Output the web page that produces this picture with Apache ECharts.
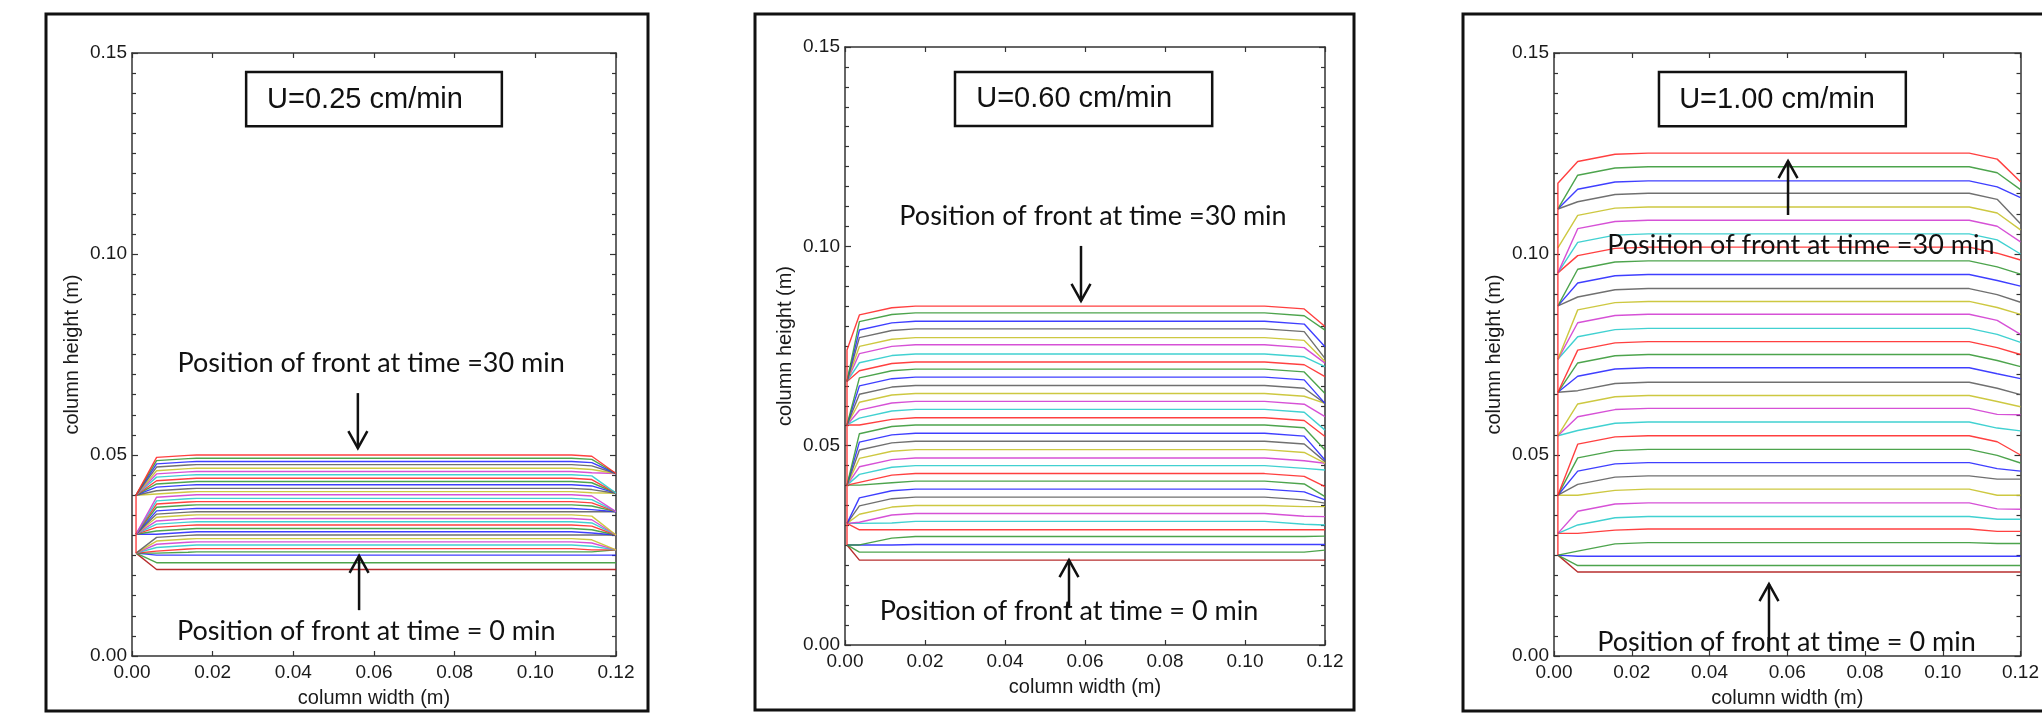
<!DOCTYPE html>
<html>
<head>
<meta charset="utf-8">
<script src="https://cdn.jsdelivr.net/npm/echarts@6/dist/echarts.min.js"></script>
<style>
  html, body { margin: 0; padding: 0; background: #fff; }
  #main { width: 2042px; height: 720px; }
</style>
</head>
<body>
<div id="main"></div>
<script>
// front height (m) on the flat part of each curve, top curve first
var front025 = [0.0500, 0.0492, 0.0484, 0.0476, 0.0467, 0.0459, 0.0451, 0.0442, 0.0434, 0.0426, 0.0417,
    0.0409, 0.0401, 0.0392, 0.0384, 0.0376, 0.0367, 0.0359, 0.0351, 0.0342, 0.0334, 0.0326, 0.0317,
    0.0309, 0.0301, 0.0292, 0.0284, 0.0276, 0.0267, 0.0259, 0.0251, 0.0232, 0.0215];
var front060 = [0.0850, 0.0833, 0.0812, 0.0793, 0.0771, 0.0753, 0.0730, 0.0710, 0.0692, 0.0672, 0.0651,
    0.0631, 0.0611, 0.0591, 0.0570, 0.0552, 0.0531, 0.0511, 0.0490, 0.0469, 0.0450, 0.0430, 0.0411,
    0.0391, 0.0371, 0.0350, 0.0330, 0.0310, 0.0289, 0.0272, 0.0252, 0.0233, 0.0213];
var front100 = [0.1251, 0.1217, 0.1182, 0.1151, 0.1117, 0.1084, 0.1050, 0.1017, 0.0983, 0.0949, 0.0914,
    0.0882, 0.0850, 0.0815, 0.0782, 0.0750, 0.0717, 0.0681, 0.0648, 0.0616, 0.0582, 0.0548, 0.0514,
    0.0481, 0.0448, 0.0415, 0.0381, 0.0347, 0.0316, 0.0282, 0.0248, 0.0225, 0.0209];

// height where each curve meets the left wall
var leftEnd025 = [0.0400, 0.0400, 0.0400, 0.0400, 0.0400, 0.0400, 0.0400, 0.0400, 0.0400, 0.0400, 0.0400,
    0.0400, 0.0303, 0.0303, 0.0303, 0.0303, 0.0303, 0.0303, 0.0303, 0.0303, 0.0303, 0.0303, 0.0303,
    0.0303, 0.0256, 0.0256, 0.0256, 0.0256, 0.0256, 0.0256, 0.0256, 0.0256, 0.0256];
var leftEnd060 = [0.0740, 0.0661, 0.0661, 0.0661, 0.0661, 0.0661, 0.0661, 0.0661, 0.0552, 0.0552, 0.0552,
    0.0552, 0.0552, 0.0552, 0.0552, 0.0401, 0.0401, 0.0401, 0.0401, 0.0401, 0.0401, 0.0401, 0.0401,
    0.0305, 0.0305, 0.0305, 0.0305, 0.0305, 0.0305, 0.0251, 0.0251, 0.0251, 0.0251];
var leftEnd100 = [0.1176, 0.1112, 0.1112, 0.1112, 0.1015, 0.0953, 0.0953, 0.0953, 0.0871, 0.0871, 0.0871,
    0.0738, 0.0738, 0.0738, 0.0656, 0.0656, 0.0656, 0.0656, 0.0548, 0.0548, 0.0548, 0.0400, 0.0400,
    0.0400, 0.0400, 0.0400, 0.0305, 0.0305, 0.0305, 0.0251, 0.0251, 0.0251, 0.0251];

// height where each curve meets the right wall
var rightEnd025 = [0.0454, 0.0454, 0.0454, 0.0454, 0.0454, 0.0454, 0.0405, 0.0405, 0.0405, 0.0405, 0.0405,
    0.0405, 0.0359, 0.0359, 0.0359, 0.0359, 0.0359, 0.0359, 0.0301, 0.0301, 0.0301, 0.0301, 0.0301,
    0.0301, 0.0301, 0.0264, 0.0264, 0.0264, 0.0264, 0.0264, 0.0251, 0.0232, 0.0215];
var rightEnd060 = [0.0799, 0.0790, 0.0748, 0.0719, 0.0711, 0.0707, 0.0698, 0.0673, 0.0631, 0.0606, 0.0606,
    0.0606, 0.0573, 0.0539, 0.0523, 0.0489, 0.0464, 0.0460, 0.0456, 0.0456, 0.0439, 0.0397, 0.0372,
    0.0364, 0.0356, 0.0347, 0.0322, 0.0301, 0.0289, 0.0273, 0.0252, 0.0238, 0.0213];
var rightEnd100 = [0.1180, 0.1160, 0.1140, 0.1075, 0.1060, 0.1030, 0.1000, 0.0985, 0.0950, 0.0920, 0.0880,
    0.0850, 0.0800, 0.0780, 0.0750, 0.0720, 0.0690, 0.0650, 0.0620, 0.0600, 0.0560, 0.0500, 0.0480,
    0.0460, 0.0440, 0.0400, 0.0365, 0.0340, 0.0310, 0.0280, 0.0248, 0.0225, 0.0209];

// x of the bends near the walls, and how far below the flat part each bend sits
var edgeX025 = [0.001, 0.0061, 0.0139, 0.0160, 0.1090, 0.1140, 0.1200];
var edgeX060 = [0.0005, 0.0036, 0.0117, 0.0176, 0.1049, 0.1148, 0.1200];
var edgeX100 = [0.001, 0.0061, 0.0157, 0.0242, 0.1068, 0.1140, 0.1200];
var edgeDrop025 = [0.0006, 0.0001, 0.0003];
var edgeDrop060 = [0.0022, 0.0004, 0.0007];
var edgeDrop100 = [0.0021, 0.0003, 0.0015];
var wallFoot = [0.0256, 0.0251, 0.0251];

var panelTitles = ['U=0.25 cm/min', 'U=0.60 cm/min', 'U=1.00 cm/min'];
var xTickLabels = ['0.00', '0.02', '0.04', '0.06', '0.08', '0.10', '0.12'];
var yTickLabels = ['0.00', '0.05', '0.10', '0.15'];

var panels = [
    {front: front025, left: leftEnd025, right: rightEnd025, ex: edgeX025, drop: edgeDrop025},
    {front: front060, left: leftEnd060, right: rightEnd060, ex: edgeX060, drop: edgeDrop060},
    {front: front100, left: leftEnd100, right: rightEnd100, ex: edgeX100, drop: edgeDrop100}
];

var lineColors = ['#ff2b2b', '#3a9a3a', '#2a2aff', '#606060', '#c8c22c', '#d23ed2', '#2ccccc'];

var gridBoxes = [[132, 53, 484, 603], [845, 47, 480, 598], [1554, 53, 484, 603]];
var frameBoxes = [[46, 14, 602, 697], [755, 14, 599, 696], [1463, 14, 610, 697]];

// annotation placement in data units
var notes = [
    {box: [0.0283, 0.1453, 0.0917, 0.1318], title: [0.0335, 0.1383],
     top: [0.0593, 0.0729], bottom: [0.0581, 0.0062],
     arrows: [[0.0560, 0.0654, 0.0560, 0.0517], [0.0563, 0.0114, 0.0563, 0.0249]]},
    {box: [0.0275, 0.1437, 0.0918, 0.1302], title: [0.0328, 0.1370],
     top: [0.0620, 0.1076], bottom: [0.0560, 0.0085],
     arrows: [[0.0590, 0.1001, 0.0590, 0.0863], [0.0560, 0.0093, 0.0560, 0.0213]]},
    {box: [0.0270, 0.1453, 0.0905, 0.1318], title: [0.0322, 0.1383],
     top: [0.0635, 0.1022], bottom: [0.0598, 0.0035],
     arrows: [[0.0602, 0.1097, 0.0602, 0.1231], [0.0553, 0.0010, 0.0553, 0.0179]]}
];

var axisFont = 'Liberation Sans, Arial, sans-serif';

function curvePoints(p, i, foot) {
    var lvl = p.front[i], l = p.left[i], r = p.right[i], ex = p.ex, d = p.drop;
    var pts = [];
    if (foot != null) pts.push([ex[0], foot]);
    pts.push([ex[0], l]);
    var k1 = l >= lvl ? lvl : Math.max(lvl - d[0], l);
    var k2 = l >= lvl ? lvl : Math.max(lvl - d[1], l);
    pts.push([ex[1], k1]);
    pts.push([ex[2], k2]);
    pts.push([ex[3], lvl]);
    pts.push([ex[4], lvl]);
    var k3 = r >= lvl ? lvl : Math.max(lvl - d[2], r);
    pts.push([ex[5], k3]);
    pts.push([ex[6], r]);
    return pts;
}

function curveColor(i) {
    if (i < 31) return lineColors[i % 7];
    return i === 31 ? '#3a9a3a' : '#b01818';
}

var option = {
    backgroundColor: '#ffffff',
    animation: false,
    grid: [],
    xAxis: [],
    yAxis: [],
    series: [],
    graphic: []
};

var tickStyle = {color: '#333', width: 1.2};

for (var p = 0; p < 3; p++) {
    var g = gridBoxes[p];
    option.grid.push({left: g[0], top: g[1], width: g[2], height: g[3], containLabel: false});
    var frameLine = {show: true, onZero: false, lineStyle: {color: '#333', width: 1.5}};
    option.xAxis.push({
        gridIndex: p, type: 'value', min: 0, max: 0.12, interval: 0.02, position: 'bottom',
        name: 'column width (m)', nameLocation: 'middle', nameGap: 32,
        nameTextStyle: {fontSize: 20, color: '#1a1a1a', fontFamily: axisFont},
        axisLine: frameLine,
        axisTick: {show: true, inside: true, length: 5, lineStyle: tickStyle},
        axisLabel: {fontSize: 19, color: '#1a1a1a', fontFamily: axisFont, margin: 7,
            formatter: function (v) { return xTickLabels[Math.round(v / 0.02)]; }},
        splitLine: {show: false}
    });
    option.xAxis.push({
        gridIndex: p, type: 'value', min: 0, max: 0.12, interval: 0.02, position: 'top',
        axisLine: frameLine,
        axisTick: {show: true, inside: true, length: 5, lineStyle: tickStyle},
        axisLabel: {show: false}, splitLine: {show: false}
    });
    option.yAxis.push({
        gridIndex: p, type: 'value', min: 0, max: 0.15, interval: 0.05, position: 'left',
        name: 'column height (m)', nameLocation: 'middle', nameGap: 50, nameRotate: 90,
        nameTextStyle: {fontSize: 20, color: '#1a1a1a', fontFamily: axisFont},
        axisLine: frameLine,
        axisTick: {show: true, inside: true, length: 6, lineStyle: tickStyle},
        minorTick: {show: true, splitNumber: 10, length: 4, lineStyle: tickStyle},
        axisLabel: {fontSize: 19, color: '#1a1a1a', fontFamily: axisFont, margin: 5,
            formatter: function (v) { return yTickLabels[Math.round(v / 0.05)]; }},
        splitLine: {show: false}
    });
    option.yAxis.push({
        gridIndex: p, type: 'value', min: 0, max: 0.15, interval: 0.05, position: 'right',
        axisLine: frameLine,
        axisTick: {show: true, inside: true, length: 6, lineStyle: tickStyle},
        minorTick: {show: true, splitNumber: 10, length: 4, lineStyle: tickStyle},
        axisLabel: {show: false}, splitLine: {show: false}
    });

    // bottom curve first so the top (red) one ends up on top
    var pan = panels[p];
    for (var i = pan.front.length - 1; i >= 0; i--) {
        option.series.push({
            type: 'line',
            xAxisIndex: p * 2,
            yAxisIndex: p * 2,
            showSymbol: false,
            silent: true,
            data: curvePoints(pan, i, i === 0 ? wallFoot[p] : null),
            lineStyle: {color: curveColor(i), width: 1.4, opacity: 0.9}
        });
    }

    var fb = frameBoxes[p];
    option.graphic.push({
        type: 'rect', shape: {x: fb[0], y: fb[1], width: fb[2], height: fb[3]},
        style: {fill: null, stroke: '#111', lineWidth: 3}, z: 100
    });
}

var myChart = echarts.init(document.getElementById('main'));
myChart.setOption(option);

function px(p, xy) {
    return myChart.convertToPixel({xAxisIndex: p * 2, yAxisIndex: p * 2}, xy);
}

var extra = option.graphic.slice();
var noteFont = 'Lato, "Open Sans", sans-serif';
for (var p = 0; p < 3; p++) {
    var n = notes[p];
    var a = px(p, [n.box[0], n.box[1]]);
    var b = px(p, [n.box[2], n.box[3]]);
    extra.push({type: 'rect', z: 110, shape: {x: a[0], y: a[1], width: b[0] - a[0], height: b[1] - a[1]},
        style: {fill: '#fff', stroke: '#111', lineWidth: 2.5}});
    var t = px(p, n.title);
    extra.push({type: 'text', z: 111, x: t[0], y: t[1],
        style: {text: panelTitles[p], font: '29px ' + axisFont, fill: '#111', align: 'left', verticalAlign: 'middle'}});
    var t1 = px(p, n.top);
    extra.push({type: 'text', z: 111, x: t1[0], y: t1[1],
        style: {text: 'Position of front at time =30 min', font: '27px ' + noteFont, fill: '#111', align: 'center', verticalAlign: 'middle'}});
    var t2 = px(p, n.bottom);
    extra.push({type: 'text', z: 111, x: t2[0], y: t2[1],
        style: {text: 'Position of front at time = 0 min', font: '27px ' + noteFont, fill: '#111', align: 'center', verticalAlign: 'middle'}});
    n.arrows.forEach(function (ar) {
        var s = px(p, [ar[0], ar[1]]);
        var h = px(p, [ar[2], ar[3]]);
        var dir = h[1] > s[1] ? -1 : 1;
        extra.push({type: 'polyline', z: 112, shape: {points: [s, h]},
            style: {stroke: '#111', lineWidth: 2.5, fill: null}});
        extra.push({type: 'polyline', z: 112,
            shape: {points: [[h[0] - 9.5, h[1] + dir * 17], h, [h[0] + 9.5, h[1] + dir * 17]]},
            style: {stroke: '#111', lineWidth: 2.5, fill: null}});
    });
}
myChart.setOption({graphic: extra});
</script>
</body>
</html>
